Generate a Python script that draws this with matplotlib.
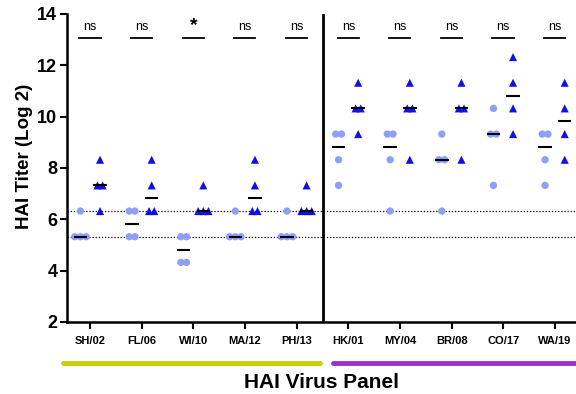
import matplotlib.pyplot as plt
import numpy as np
from matplotlib.lines import Line2D

plt.rcParams['font.family'] = ['Liberation Sans', 'DejaVu Sans']

viruses = ['SH/02', 'FL/06', 'WI/10', 'MA/12', 'PH/13',
           'HK/01', 'MY/04', 'BR/08', 'CO/17', 'WA/19']

# HAI titers per animal, group 1 (circles) and group 2 (triangles)
titers_circle = [
    [80, 40, 40, 40],
    [80, 80, 40, 40],
    [40, 40, 20, 20],
    [80, 40, 40, 40],
    [80, 40, 40, 40],
    [640, 640, 320, 160],
    [640, 640, 320, 80],
    [640, 320, 320, 80],
    [1280, 640, 640, 160],
    [640, 640, 320, 160],
]
titers_triangle = [
    [320, 160, 160, 80],
    [320, 160, 80, 80],
    [160, 80, 80, 80],
    [320, 160, 80, 80],
    [160, 80, 80, 80],
    [2560, 1280, 1280, 640],
    [2560, 1280, 1280, 320],
    [2560, 1280, 1280, 320],
    [5120, 2560, 1280, 640],
    [2560, 1280, 640, 320],
]
signif = ['ns', 'ns', '*', 'ns', 'ns', 'ns', 'ns', 'ns', 'ns', 'ns']
ref_lines = [40, 80]

circ_col = '#8f9ff6'
tri_col = '#1010e6'


def swarm_x(center, vals, step=0.11):
    # spread equal values side by side
    xs = np.zeros(len(vals))
    for v in np.unique(vals):
        idx = np.where(vals == v)[0]
        n = len(idx)
        xs[idx] = center + (np.arange(n) - (n - 1) / 2) * step
    return xs


fig = plt.figure(figsize=(5.76, 3.94), dpi=100)
ax = fig.add_axes([67 / 576, 72 / 394, 513.7 / 576, 308 / 394])

for r in ref_lines:
    ax.axhline(np.log2(r), color='black', ls=(0, (1, 1.5)), lw=0.9, zorder=1)

for i in range(len(viruses)):
    c = np.log2(np.array(titers_circle[i], dtype=float))
    t = np.log2(np.array(titers_triangle[i], dtype=float))
    xc = swarm_x(i - 0.19, c)
    xt = swarm_x(i + 0.19, t, step=0.1)
    ax.scatter(xc, c, s=28, color=circ_col, edgecolors='none', zorder=3)
    ax.scatter(xt, t, s=34, marker='^', color=tri_col, edgecolors='none', zorder=3)
    ax.plot([i - 0.19 - 0.13, i - 0.19 + 0.13], [np.median(c)] * 2,
            color='black', lw=1.5, zorder=4, solid_capstyle='butt')
    ax.plot([i + 0.19 - 0.13, i + 0.19 + 0.13], [np.median(t)] * 2,
            color='black', lw=1.5, zorder=4, solid_capstyle='butt')
    ax.plot([i - 0.21, i + 0.2], [13.06, 13.06], color='black', lw=1.3)
    if signif[i] == '*':
        ax.text(i, 13.2, '*', ha='center', va='bottom', fontsize=14,
                fontweight='bold')
    else:
        ax.text(i, 13.25, signif[i], ha='center', va='bottom', fontsize=9)

ax.axvline(4.5, color='black', lw=2, zorder=2)

ax.set_xlim(-0.45, 9.5)
ax.set_ylim(2, 14)
ax.set_yticks(range(2, 15, 2))
ax.set_xticks(range(len(viruses)))
ax.set_xticklabels(viruses, fontsize=8, fontweight='bold')
for lab in ax.get_yticklabels():
    lab.set_fontsize(13)
    lab.set_fontweight('bold')
ax.tick_params(axis='both', width=1.5, length=5, pad=2)
ax.tick_params(axis='x', pad=5)
for s in ['top', 'right']:
    ax.spines[s].set_visible(False)
for s in ['left', 'bottom']:
    ax.spines[s].set_linewidth(1.8)

fig.text(25 / 576, 1 - 156 / 394, 'HAI Titer (Log 2)', rotation=90,
         ha='center', va='center', fontsize=13.5, fontweight='bold')
fig.text(322 / 576, 1 - 382 / 394, 'HAI Virus Panel', ha='center',
         va='center', fontsize=15, fontweight='bold')
fig.text(295 / 576, 1.009, '(HAI)', ha='center', va='baseline',
         fontsize=15, fontweight='bold')

fig.add_artist(Line2D([63 / 576, 320 / 576], [1 - 363 / 394] * 2,
                      color='#cccc00', lw=3.5, solid_capstyle='round'))
fig.add_artist(Line2D([333 / 576, 600 / 576], [1 - 363 / 394] * 2,
                      color='#9933cc', lw=3.5, solid_capstyle='round'))

fig.savefig('out.png', dpi=100)
